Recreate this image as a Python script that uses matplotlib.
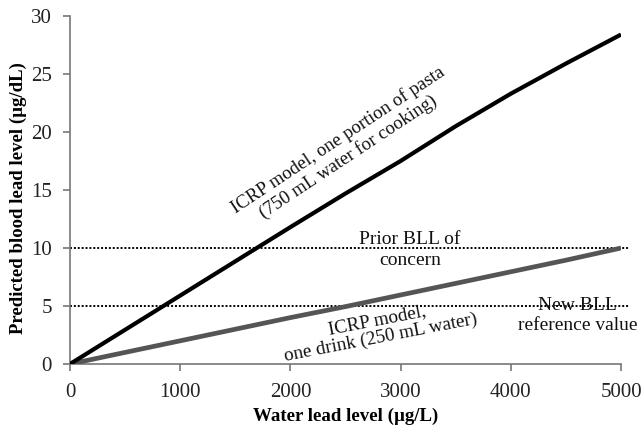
import matplotlib
matplotlib.use("Agg")
import matplotlib.pyplot as plt

# Data
water_lead = [0, 500, 1000, 1500, 2000, 2500, 3000, 3500, 4000, 4500, 5000]
pasta_bll = [0, 2.95, 5.9, 8.85, 11.8, 14.7, 17.5, 20.5, 23.3, 25.9, 28.4]
drink_bll = [0, 1.0, 2.0, 3.0, 4.0, 4.95, 5.95, 6.95, 7.95, 8.95, 10.0]
prior_bll = 10
new_bll = 5
x_ticks = [0, 1000, 2000, 3000, 4000, 5000]
y_ticks = [0, 5, 10, 15, 20, 25, 30]

plt.rcParams['font.family'] = ['Liberation Serif', 'DejaVu Serif']

fig = plt.figure(figsize=(6.41, 4.29), dpi=100)
ax = fig.add_axes([0.1092, 0.1515, 0.8596, 0.8112])

ax.plot(water_lead, drink_bll, color='#555555', lw=3.4, solid_capstyle='butt', zorder=3)
ax.plot(water_lead, pasta_bll, color='black', lw=3.0, solid_capstyle='butt', zorder=4)

for yv in (prior_bll, new_bll):
    ax.plot([0, 5080], [yv, yv], color='black', lw=1.4, linestyle=(0, (1, 1)),
            clip_on=False, zorder=2)

ax.set_xlim(0, 5000)
ax.set_ylim(0, 30)
ax.set_xticks(x_ticks)
ax.set_yticks(y_ticks)

for s in ('top', 'right'):
    ax.spines[s].set_visible(False)
for s in ('left', 'bottom'):
    ax.spines[s].set_color('#777777')
    ax.spines[s].set_linewidth(1.2)

ax.tick_params(axis='both', direction='out', length=5, width=1.2, color='#777777',
               labelsize=15, labelcolor='#222222')
ax.tick_params(axis='y', pad=8)
ax.tick_params(axis='x', pad=9)

ax.set_xlabel('Water lead level (µg/L)', fontsize=13.6, fontweight='bold', labelpad=4)
ax.set_ylabel('Predicted blood lead level (µg/dL)', fontsize=13.5, fontweight='bold')
ax.yaxis.set_label_coords(-0.078, 0.477)

ax.text(2480, 18.6, 'ICRP model, one portion of pasta\n(750 mL water for cooking)',
        rotation=33.5, ha='center', va='center', multialignment='center',
        fontsize=13.5, linespacing=1.12, color='#111111')
ax.text(2800, 3.0, 'ICRP model,\none drink (250 mL water)',
        rotation=11, ha='center', va='center', multialignment='center',
        fontsize=13.8, linespacing=1.05, color='#111111')
ax.text(3083, 9.83, 'Prior BLL of\nconcern', ha='center', va='center',
        multialignment='center', fontsize=14, linespacing=1.3, color='#111111')
ax.text(4606, 4.2, 'New BLL\nreference value', ha='center', va='center',
        multialignment='center', fontsize=14, linespacing=1.25, color='#111111')

fig.savefig('out.png', dpi=100)
